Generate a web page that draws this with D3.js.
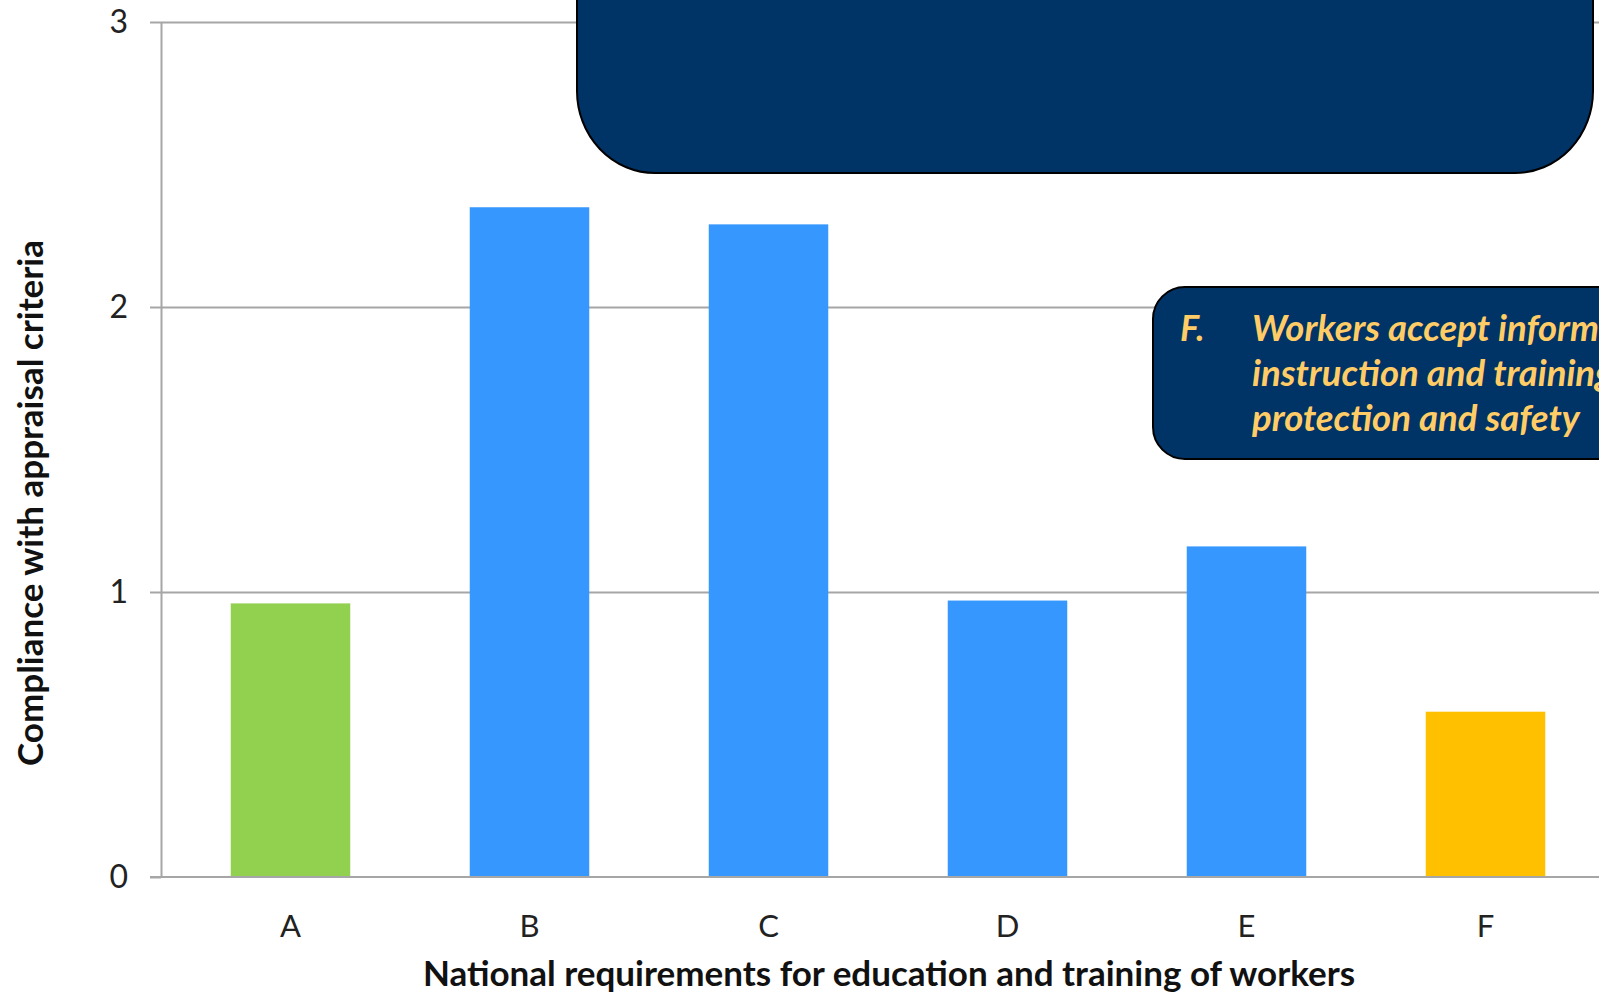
<!DOCTYPE html>
<html>
<head>
<meta charset="utf-8">
<script src="https://cdn.jsdelivr.net/npm/d3@7"></script>
<style>
  body { margin: 0; background: #fff; }
  svg { display: block; font-family: Lato, "Open Sans", sans-serif; }
</style>
</head>
<body>
<svg width="1599" height="996"></svg>
<script>
const categories = ["A", "B", "C", "D", "E", "F"];
const values = [0.96, 2.35, 2.29, 0.97, 1.16, 0.58];
const barColors = ["#92D050", "#3698FF", "#3698FF", "#3698FF", "#3698FF", "#FFC000"];
const yTicks = [0, 1, 2, 3];
const noteLetter = "F.";
const noteLines = ["Workers accept information,", "instruction and training in", "protection and safety"];

const svg = d3.select("svg"),
      W = +svg.attr("width"),
      axisX = 161, y0 = 877, y3 = 22;

const x = d3.scaleBand().domain(categories).range([171, 1605]).paddingInner(0.5).paddingOuter(0.25);
const y = d3.scaleLinear().domain([0, 3]).range([y0, y3]);

// gridlines
svg.append("g")
  .attr("transform", `translate(${axisX},0)`)
  .call(d3.axisLeft(y).tickValues(yTicks.slice(1)).tickSize(-(W - axisX)).tickFormat(""))
  .call(g => g.select(".domain").remove())
  .call(g => g.selectAll("line").attr("stroke", "#a6a6a6").attr("stroke-width", 2));

// y axis with labels
svg.append("g")
  .attr("transform", `translate(${axisX},0)`)
  .call(d3.axisLeft(y).tickValues(yTicks).tickFormat(d3.format("d")).tickSize(11).tickPadding(22).tickSizeOuter(0))
  .call(g => g.select(".domain").attr("stroke", "#a6a6a6").attr("stroke-width", 2))
  .call(g => g.selectAll("line").attr("stroke", "#a6a6a6").attr("stroke-width", 2))
  .call(g => g.selectAll("text").attr("font-size", 32).attr("fill", "#222").attr("font-family", "Lato"));

// bars
svg.append("g").selectAll("rect")
  .data(values)
  .join("rect")
  .attr("x", (d, i) => x(categories[i]))
  .attr("y", d => y(d))
  .attr("width", x.bandwidth())
  .attr("height", d => y(0) - y(d))
  .attr("fill", (d, i) => barColors[i]);

// x axis
svg.append("g")
  .attr("transform", `translate(0,${y0})`)
  .call(d3.axisBottom(x).tickSize(0).tickPadding(38))
  .call(g => g.select(".domain").attr("d", `M${axisX - 11},0H${W}`).attr("stroke", "#a6a6a6").attr("stroke-width", 2))
  .call(g => g.selectAll("text").attr("font-size", 31).attr("fill", "#222").attr("font-family", "Lato"));

// axis titles
svg.append("text")
  .attr("x", 889).attr("y", 986)
  .attr("text-anchor", "middle")
  .attr("font-size", 35).attr("font-weight", "bold").attr("fill", "#111")
  .text("National requirements for education and training of workers");

svg.append("text")
  .attr("transform", "translate(43,503) rotate(-90)")
  .attr("text-anchor", "middle")
  .attr("font-size", 35).attr("font-weight", "bold").attr("fill", "#111")
  .text("Compliance with appraisal criteria");

// top dark callout (cut off by the top edge)
svg.append("rect")
  .attr("x", 577).attr("y", -120)
  .attr("width", 1016).attr("height", 293)
  .attr("rx", 78).attr("ry", 82)
  .attr("fill", "#003366").attr("stroke", "#000").attr("stroke-width", 2);

// note callout for F
const note = svg.append("g");
note.append("rect")
  .attr("x", 1153).attr("y", 287)
  .attr("width", 520).attr("height", 172)
  .attr("rx", 32)
  .attr("fill", "#003366").attr("stroke", "#000").attr("stroke-width", 2);

note.append("text")
  .attr("x", 1180).attr("y", 341)
  .attr("font-size", 36).attr("font-weight", "bold").attr("font-style", "italic")
  .attr("fill", "#FFCC66")
  .text(noteLetter);

note.selectAll("text.line")
  .data(noteLines)
  .join("text")
  .attr("class", "line")
  .attr("x", 1252).attr("y", (d, i) => 341 + i * 45)
  .attr("font-size", 36.5).attr("font-weight", "bold").attr("font-style", "italic")
  .attr("fill", "#FFCC66")
  .text(d => d);
</script>
</body>
</html>
